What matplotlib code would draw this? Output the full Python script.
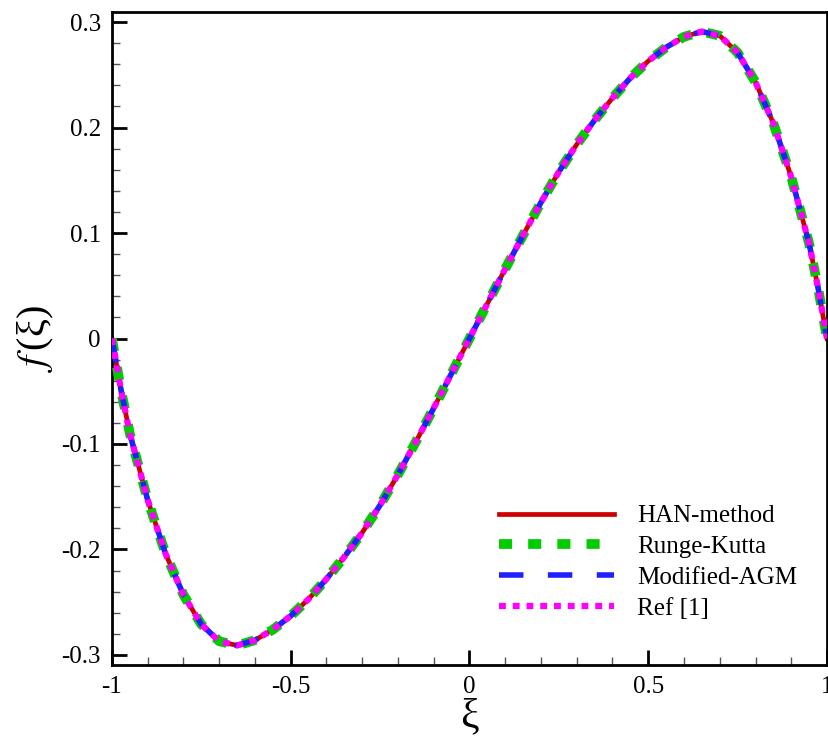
import numpy as np
import matplotlib
matplotlib.use("Agg")
import matplotlib.pyplot as plt
from matplotlib.ticker import MultipleLocator

plt.rcParams['font.family'] = ['Liberation Serif', 'DejaVu Serif']
plt.rcParams['mathtext.fontset'] = 'stix'

# values (all four methods coincide)
xi = [-1.0, -0.975, -0.95, -0.9, -0.85, -0.8, -0.75, -0.7, -0.65, -0.6, -0.55,
      -0.5, -0.45, -0.4, -0.35, -0.3, -0.25, -0.2, -0.15, -0.1, -0.05, 0.0,
      0.05, 0.1, 0.15, 0.2, 0.25, 0.3, 0.35, 0.4, 0.45, 0.5, 0.55, 0.6, 0.65,
      0.7, 0.75, 0.8, 0.85, 0.9, 0.95, 0.975, 1.0]
f_han = [0.0, -0.048, -0.090, -0.153, -0.204, -0.243, -0.271, -0.287, -0.291,
         -0.286, -0.276, -0.263, -0.247, -0.228, -0.207, -0.184, -0.158, -0.129,
         -0.098, -0.066, -0.033, 0.0, 0.033, 0.066, 0.098, 0.129, 0.158, 0.184,
         0.207, 0.228, 0.247, 0.263, 0.276, 0.286, 0.291, 0.287, 0.271, 0.243,
         0.204, 0.153, 0.090, 0.048, 0.0]
f_rk = list(f_han)
f_agm = list(f_han)
f_ref = list(f_han)

labels = ['HAN-method', 'Runge-Kutta', 'Modified-AGM', 'Ref [1]']

fig = plt.figure(figsize=(8.29, 7.42), dpi=100)
ax = fig.add_axes([0.135, 0.1038, 0.8626, 0.88])

l1, = ax.plot(xi, f_han, color='#cc0000', lw=3.4, zorder=2)
l2, = ax.plot(xi, f_rk, color='#00cc00', lw=7, linestyle=(0, (1.35, 1.65)),
              dash_capstyle='butt', zorder=3)
l3, = ax.plot(xi, f_agm, color='#2020ff', lw=4, linestyle=(0, (4.4, 4.4)),
              dash_capstyle='butt', zorder=4)
l4, = ax.plot(xi, f_ref, color='#ff00ff', lw=4.5, linestyle=(0, (1.1, 1.1)),
              dash_capstyle='butt', zorder=5)

ax.legend([l1, l2, l3, l4], labels, loc='lower right', frameon=False,
          fontsize=18, handlelength=4.6, handletextpad=0.9, labelspacing=0.33,
          borderaxespad=0, bbox_to_anchor=(0.972, 0.054))

ax.set_xlim(-1, 1)
ax.set_ylim(-0.3095, 0.3095)
ax.set_xticks([-1, -0.5, 0, 0.5, 1])
ax.set_xticklabels(['-1', '-0.5', '0', '0.5', '1'])
ax.set_yticks([-0.3, -0.2, -0.1, 0, 0.1, 0.2, 0.3])
ax.set_yticklabels(['-0.3', '-0.2', '-0.1', '0', '0.1', '0.2', '0.3'])
ax.xaxis.set_minor_locator(MultipleLocator(0.1))
ax.yaxis.set_minor_locator(MultipleLocator(0.02))
ax.tick_params(which='both', direction='in', top=False, right=False, labelsize=18)
ax.tick_params(which='major', length=11, width=2, pad=8)
ax.tick_params(which='minor', length=6, width=1, color='#555555')
for s in ax.spines.values():
    s.set_linewidth(2)

ax.set_xlabel('ξ', fontsize=30, labelpad=0)
ax.set_ylabel(r'$f\,$(ξ)', fontsize=29, labelpad=4)

fig.savefig('out.png', dpi=100)
